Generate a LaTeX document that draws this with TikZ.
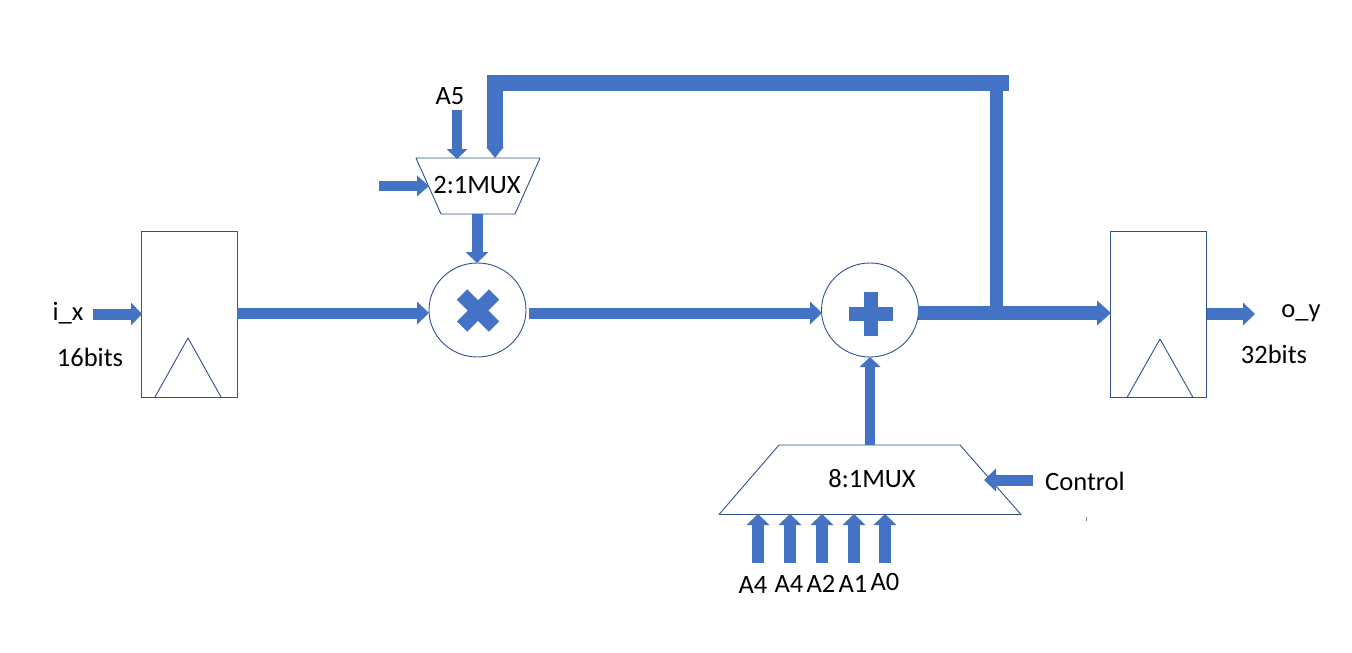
\documentclass[tikz,border=0pt]{standalone}
\usepackage{fontspec}
\setmainfont{Carlito}
\usetikzlibrary{arrows.meta,shapes.geometric}
\definecolor{busblue}{HTML}{4472C4}
\definecolor{edgeblue}{HTML}{2F528F}
\tikzset{
  block/.style={draw=edgeblue,line width=0.9pt,fill=white,inner sep=0pt},
  reg/.style={block,rectangle,minimum width=96pt,minimum height=166pt},
  op/.style={block,ellipse,minimum width=97pt,minimum height=94pt},
  clk/.style={draw=edgeblue,line width=0.9pt},
  lbl/.style={inner sep=0pt,font=\fontsize{26.5}{28}\selectfont},
  bus/.style n args={3}{draw=busblue,line width=#1,-{Triangle[length=#3,width=#2,line width=0pt]}},
  plainbus/.style={draw=busblue,line width=#1},
  sign/.style={draw=busblue,line width=14.5pt},
}
\begin{document}
\begin{tikzpicture}[x=1pt,y=-1pt]
\useasboundingbox (0,0) rectangle (1352,653);
% blocks
\node[reg] (regin) at (189,314) {};
\node[reg] (regout) at (1158.5,314) {};
\node[op] (mul) at (477.5,310) {};
\node[op] (add) at (870,310) {};
\draw[block,line join=round] (416,158) -- (540,158) -- (515,214) -- (441,214) -- cycle;
\node[lbl] (muxa) at (477,185) {2:1MUX};
\draw[block,line join=round] (779,445) -- (960,445) -- (1021,514.5) -- (719,514.5) -- cycle;
\node[lbl] (muxb) at (872,479) {8:1MUX};
% clock triangles
\draw[clk,line join=round] (155,397) -- (188,338) -- (221,397);
\draw[clk,line join=round] (1127,397.5) -- (1160,339) -- (1193,397.5) -- cycle;
% operator signs
\coordinate (xa) at (462,294.5); \coordinate (xb) at (494,326.5);
\coordinate (xc) at (494,294.5); \coordinate (xd) at (462,326.5);
\draw[sign] (xa) -- (xb);
\draw[sign] (xc) -- (xd);
\coordinate (pa) at (849,314); \coordinate (pb) at (893,314);
\coordinate (pc) at (871,292); \coordinate (pd) at (871,336);
\draw[sign] (pa) -- (pb);
\draw[sign] (pc) -- (pd);
% labels
\node[lbl] (lix) at (68,313) {i\_x};
\node[lbl] (l16) at (90,357) {16bits};
\node[lbl] (loy) at (1301,313) {o\_y};
\node[lbl] (l32) at (1274,354) {32bits};
\node[lbl] (lafive) at (450,96) {A5};
\node[lbl] (lctrl) at (1085,481) {Control};
\node[lbl] (lafoura) at (753,585) {A4};
\node[lbl] (lafourb) at (789,584) {A4};
\node[lbl] (latwo) at (821,584) {A2};
\node[lbl] (laone) at (853,584) {A1};
\node[lbl] (lazero) at (885,582) {A0};
% ports
\coordinate (ixs) at (93,314);   \coordinate (ixt) at (142,314);
\coordinate (r1s) at (237,313);  \coordinate (r1t) at (429,313);
\coordinate (ms) at (529,313);   \coordinate (mt) at (822,313);
\coordinate (as) at (918,313);   \coordinate (at2) at (1111,313);
\coordinate (os) at (1207,314);  \coordinate (ot) at (1255,314);
\coordinate (a5s) at (457,110);  \coordinate (a5t) at (457,159);
\coordinate (lis) at (379,186);  \coordinate (lit) at (429,186);
\coordinate (mxs) at (477,214);  \coordinate (mxt) at (477,263);
\coordinate (bs) at (870,445);   \coordinate (bt) at (870,357);
\coordinate (cs) at (1033,480);  \coordinate (ct) at (984,480);
\coordinate (fbe) at (1009,82.5); \coordinate (fbc) at (495,82.5); \coordinate (fbt) at (495,158);
\coordinate (tapb) at (996,313); \coordinate (tapt) at (996,82.5);
% connectors
\draw[bus={11pt}{23pt}{11pt}] (ixs) -- (ixt);
\draw[bus={11pt}{23pt}{12pt}] (r1s) -- (r1t);
\draw[bus={11pt}{23pt}{12pt}] (ms) -- (mt);
\draw[bus={13.5pt}{25pt}{14pt}] (as) -- (at2);
\draw[bus={11.5pt}{23pt}{12pt}] (os) -- (ot);
\draw[bus={10pt}{21pt}{10pt}] (a5s) -- (a5t);
\draw[bus={10.5pt}{21pt}{12pt}] (lis) -- (lit);
\draw[bus={11pt}{23pt}{11pt}] (mxs) -- (mxt);
\draw[bus={10pt}{21pt}{10pt}] (bs) -- (bt);
\draw[bus={11pt}{23pt}{12pt}] (cs) -- (ct);
\draw[plainbus=13pt] (tapb) -- (tapt);
\draw[bus={16pt}{17.5pt}{11pt},line join=miter] (fbe) -- (fbc) -- (fbt);
\foreach \n/\xx in {a/758,b/790,c/822,d/854,e/885}{
  \coordinate (in\n s) at (\xx,563);
  \coordinate (in\n t) at (\xx,514);
  \draw[bus={11.5pt}{23pt}{11pt}] (in\n s) -- (in\n t);
}
% stray tick
\draw[gray,line width=0.8pt] (1086,517) -- (1086,521);
\end{tikzpicture}
\end{document}
